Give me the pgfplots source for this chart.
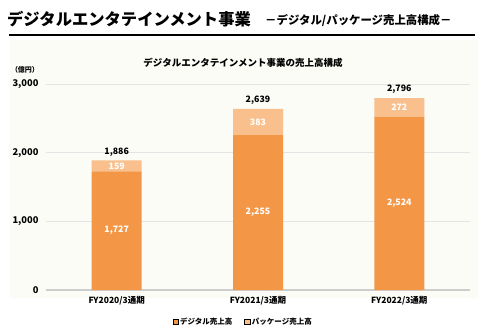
\documentclass[border=0pt]{standalone}
\usepackage{fontspec}
\setmainfont{Noto Sans CJK JP}
\usepackage{pgfplots}
\pgfplotsset{compat=1.18}
\definecolor{orgdark}{HTML}{F39747}
\definecolor{orglight}{HTML}{F9C08D}
\definecolor{gridc}{HTML}{E4E4E4}
\definecolor{panel}{HTML}{FBFCF6}
\begin{document}
\begin{tikzpicture}
\fill[panel] (10pt,-40pt) rectangle (478pt,-298pt);
\node[anchor=west,inner sep=0pt,font=\fontsize{16.3}{18}\selectfont\bfseries] at (7pt,-19pt) {デジタルエンタテインメント事業};
\node[anchor=west,inner sep=0pt,font=\fontsize{11.4}{13}\selectfont\bfseries] at (265pt,-21pt) {－デジタル/パッケージ売上高構成－};
\draw[line width=2pt,black] (9pt,-34.5pt) -- (475pt,-34.5pt);
\node[font=\fontsize{9.5}{11}\selectfont\bfseries] at (243pt,-63pt) {デジタルエンタテインメント事業の売上高構成};
\node[font=\fontsize{7}{8}\selectfont\bfseries] at (25pt,-70pt) {（億円）};
\begin{axis}[
  at={(46pt,-290pt)}, anchor=south west,
  scale only axis, width=424pt, height=206pt,
  xmin=-0.5, xmax=2.5, ymin=0, ymax=3000,
  ybar stacked, bar width=50pt,
  axis line style={draw=none},
  major tick length=0pt,
  ymajorgrids, grid style={gridc, line width=0.8pt},
  ytick={1000,2000,3000},
  yticklabels={{1,000},{2,000},{3,000}},
  extra y ticks={0}, extra y tick labels={0},
  extra y tick style={grid style={gridc!90!black, line width=1.5pt}},
  yticklabel style={font=\fontsize{9.3}{10}\selectfont\bfseries, xshift=-4pt},
  xtick={0,1,2},
  xticklabels={FY2020/3通期,FY2021/3通期,FY2022/3通期},
  xticklabel style={font=\fontsize{8.5}{10}\selectfont\bfseries, yshift=-3pt},
  legend columns=2,
  legend style={draw=none, fill=none, at={(0.465,-0.155)}, anchor=center,
    font=\fontsize{7.5}{9}\selectfont\bfseries,
    /tikz/every even column/.append style={column sep=10pt}},
  area legend,
  legend image post style={xscale=0.3, yscale=0.85},
]
\addplot[fill=orgdark, draw=none] coordinates {(0,1727) (1,2255) (2,2524)};
\addplot[fill=orglight, draw=none] coordinates {(0,159) (1,383) (2,272)};
\legend{デジタル売上高,パッケージ売上高}
\end{axis}
\begin{scope}[font=\fontsize{8.8}{10}\selectfont\bfseries]
% value labels: x = 46 + 141.33*(i+0.5) pt, y = -290 + v*206/3000 pt
\node[white] at (116.7pt,-230.7pt) {1,727};
\node[white] at (258pt,-212.6pt) {2,255};
\node[white] at (399.3pt,-203.3pt) {2,524};
\node[white] at (116.7pt,-166.0pt) {159};
\node[white] at (258pt,-122.0pt) {383};
\node[white] at (399.3pt,-107.3pt) {272};
\node at (116.7pt,-152pt) {1,886};
\node at (258pt,-100pt) {2,639};
\node at (399.3pt,-89pt) {2,796};
\end{scope}
\pgfresetboundingbox
\path[use as bounding box] (0pt,0pt) rectangle (480pt,-335pt);
\end{tikzpicture}
\end{document}
